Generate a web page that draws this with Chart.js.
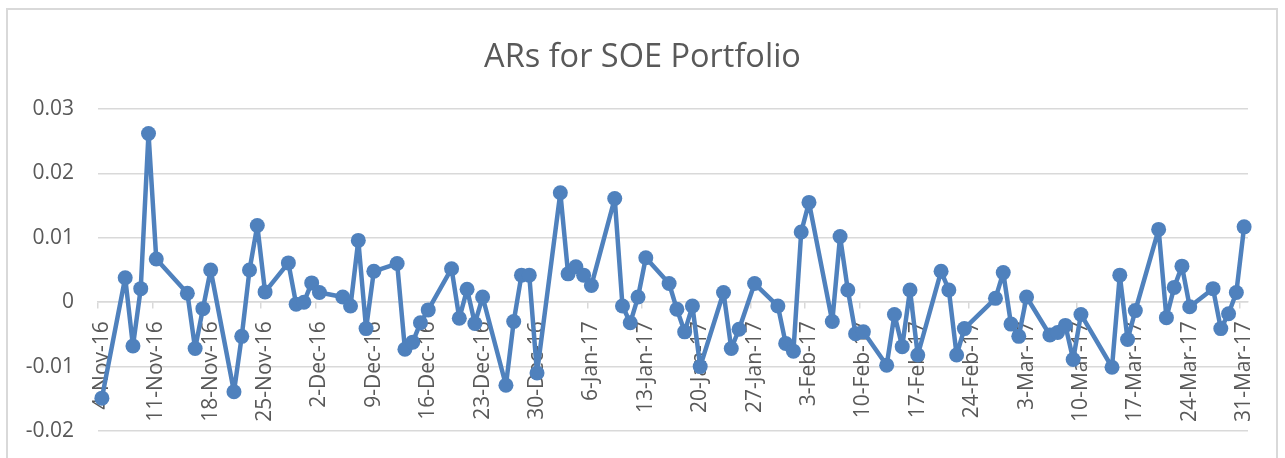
<!DOCTYPE html>
<html lang="en">
<head>
  <meta charset="UTF-8" />
  <title>ARs for SOE Portfolio</title>
  <style>
    body {
      margin: 0;
      background: #ffffff;
      width: 1285px;
      height: 458px;
      overflow: hidden;
      position: relative;
    }

    #frame {
      position: absolute;
      left: 6px;
      top: 8px;
      width: 1272px;
      height: 470px;
      box-sizing: border-box;
      border: 2px solid #d9d9d9;
    }

    #chart {
      position: absolute;
      left: 0;
      top: 0;
    }
  </style>
</head>
<body>

  <div id="frame"></div>
  <canvas id="chart" width="1285" height="458"></canvas>

  <script src="https://cdn.jsdelivr.net/npm/chart.js"></script>

  <script>
    // trading days (Indian market holidays leave gaps)
    const dates = [
      "2016-11-04", "2016-11-07", "2016-11-08", "2016-11-09", "2016-11-10", "2016-11-11",
      "2016-11-15", "2016-11-16", "2016-11-17", "2016-11-18",
      "2016-11-21", "2016-11-22", "2016-11-23", "2016-11-24", "2016-11-25",
      "2016-11-28", "2016-11-29", "2016-11-30", "2016-12-01", "2016-12-02",
      "2016-12-05", "2016-12-06", "2016-12-07", "2016-12-08", "2016-12-09",
      "2016-12-12", "2016-12-13", "2016-12-14", "2016-12-15", "2016-12-16",
      "2016-12-19", "2016-12-20", "2016-12-21", "2016-12-22", "2016-12-23",
      "2016-12-26", "2016-12-27", "2016-12-28", "2016-12-29", "2016-12-30",
      "2017-01-02", "2017-01-03", "2017-01-04", "2017-01-05", "2017-01-06",
      "2017-01-09", "2017-01-10", "2017-01-11", "2017-01-12", "2017-01-13",
      "2017-01-16", "2017-01-17", "2017-01-18", "2017-01-19", "2017-01-20",
      "2017-01-23", "2017-01-24", "2017-01-25", "2017-01-27",
      "2017-01-30", "2017-01-31", "2017-02-01", "2017-02-02", "2017-02-03",
      "2017-02-06", "2017-02-07", "2017-02-08", "2017-02-09", "2017-02-10",
      "2017-02-13", "2017-02-14", "2017-02-15", "2017-02-16", "2017-02-17",
      "2017-02-20", "2017-02-21", "2017-02-22", "2017-02-23",
      "2017-02-27", "2017-02-28", "2017-03-01", "2017-03-02", "2017-03-03",
      "2017-03-06", "2017-03-07", "2017-03-08", "2017-03-09", "2017-03-10",
      "2017-03-14", "2017-03-15", "2017-03-16", "2017-03-17",
      "2017-03-20", "2017-03-21", "2017-03-22", "2017-03-23", "2017-03-24",
      "2017-03-27", "2017-03-28", "2017-03-29", "2017-03-30", "2017-03-31"
    ];

    const ars = [
      -0.0149, 0.0038, -0.0068, 0.0021, 0.0262, 0.0067,
      0.0014, -0.0072, -0.0010, 0.0050,
      -0.0139, -0.0053, 0.0050, 0.0119, 0.0016,
      0.0061, -0.0003, 0.0000, 0.0030, 0.0015,
      0.0008, -0.0006, 0.0096, -0.0041, 0.0048,
      0.0060, -0.0073, -0.0062, -0.0032, -0.0012,
      0.0052, -0.0025, 0.0020, -0.0033, 0.0008,
      -0.0129, -0.0030, 0.0042, 0.0042, -0.0110,
      0.0170, 0.0044, 0.0055, 0.0042, 0.0026,
      0.0161, -0.0006, -0.0032, 0.0008, 0.0069,
      0.0029, -0.0011, -0.0046, -0.0006, -0.0100,
      0.0015, -0.0072, -0.0042, 0.0029,
      -0.0006, -0.0064, -0.0076, 0.0109, 0.0155,
      -0.0030, 0.0102, 0.0019, -0.0049, -0.0046,
      -0.0098, -0.0019, -0.0069, 0.0019, -0.0082,
      0.0048, 0.0019, -0.0082, -0.0041,
      0.0006, 0.0046, -0.0034, -0.0053, 0.0008,
      -0.0051, -0.0047, -0.0036, -0.0089, -0.0019,
      -0.0101, 0.0042, -0.0058, -0.0013,
      0.0113, -0.0024, 0.0023, 0.0056, -0.0007,
      0.0021, -0.0041, -0.0018, 0.0015, 0.0117
    ];

    const tickLabels = [
      "4-Nov-16", "11-Nov-16", "18-Nov-16", "25-Nov-16", "2-Dec-16", "9-Dec-16",
      "16-Dec-16", "23-Dec-16", "30-Dec-16", "6-Jan-17", "13-Jan-17", "20-Jan-17",
      "27-Jan-17", "3-Feb-17", "10-Feb-17", "17-Feb-17", "24-Feb-17", "3-Mar-17",
      "10-Mar-17", "17-Mar-17", "24-Mar-17", "31-Mar-17"
    ];

    const DAY = 86400000;
    const toUtc = s => {
      const p = s.split("-");
      return Date.UTC(+p[0], +p[1] - 1, +p[2]);
    };
    const start = toUtc(dates[0]);
    const dayOf = s => Math.round((toUtc(s) - start) / DAY);

    const points = dates.map((d, i) => ({ x: dayOf(d), y: ars[i] }));
    const lastDay = dayOf(dates[dates.length - 1]);

    const blue = "#4f81bd";
    const grey = "#d9d9d9";
    const textGrey = "#595959";

    new Chart(document.getElementById("chart"), {
      type: "line",
      data: {
        datasets: [{
          data: points,
          borderColor: blue,
          backgroundColor: blue,
          borderWidth: 4.5,
          borderJoinStyle: "round",
          tension: 0,
          pointRadius: 7.5,
          pointHoverRadius: 7.5,
          pointBorderWidth: 0,
          pointBackgroundColor: blue,
          clip: false
        }]
      },
      options: {
        responsive: false,
        animation: false,
        layout: {
          padding: { left: 0, right: 0, top: 0, bottom: 27 }
        },
        plugins: {
          legend: { display: false },
          tooltip: { enabled: false },
          title: {
            display: true,
            text: "ARs for SOE Portfolio",
            color: textGrey,
            font: { family: "'Open Sans'", size: 32.5, weight: "normal", lineHeight: 1.2 },
            padding: { top: 38, bottom: 32 }
          }
        },
        scales: {
          x: {
            type: "linear",
            position: { y: 0 },
            min: -0.5,
            max: lastDay + 0.5,
            afterBuildTicks: scale => {
              // one tick every 7 days, at the left edge of each day slot
              scale.ticks = tickLabels.map((_, i) => ({ value: i * 7 - 0.5 }));
            },
            grid: {
              drawOnChartArea: false,
              drawTicks: true,
              tickLength: 6,
              color: grey,
              lineWidth: 1.5
            },
            border: { display: true, color: grey, width: 1.5 },
            ticks: {
              autoSkip: false,
              minRotation: 90,
              maxRotation: 90,
              padding: 13,
              labelOffset: 3.9,
              color: textGrey,
              font: { family: "'Open Sans'", size: 21 },
              callback: (v, i) => tickLabels[i]
            }
          },
          y: {
            min: -0.02,
            max: 0.03,
            afterFit: scale => {
              scale.width = 98;
              scale.paddingTop = 0;
              scale.paddingBottom = 0;
            },
            grid: {
              drawTicks: false,
              color: grey,
              lineWidth: 1.5
            },
            border: { display: false },
            ticks: {
              stepSize: 0.01,
              padding: 24,
              color: textGrey,
              font: { family: "'Open Sans'", size: 21 },
              callback: v => String(Number(v.toFixed(2)))
            }
          },
          // empty right-hand axis, only keeps the plot clear of the right frame
          yRight: {
            position: "right",
            display: true,
            afterFit: scale => { scale.width = 37; },
            grid: { display: false },
            border: { display: false },
            ticks: { display: false }
          }
        }
      }
    });
  </script>

</body>
</html>
